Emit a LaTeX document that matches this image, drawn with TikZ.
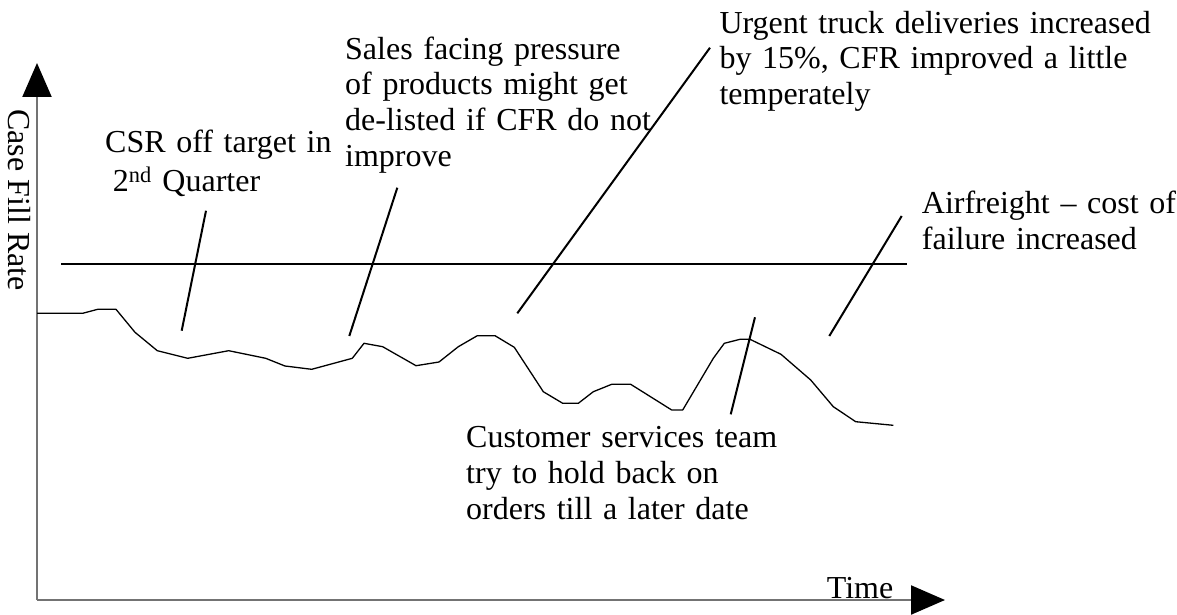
\documentclass[tikz,border=0pt]{standalone}
\usepackage{fontspec}
\setmainfont{Liberation Serif}
\usetikzlibrary{arrows.meta}
\begin{document}
\begin{tikzpicture}[x=1pt,y=-1pt,
  lbl/.style={anchor=base west, inner sep=0pt, text width=520pt, align=left,
              font=\fontsize{32}{35.7}\selectfont},
  axisline/.style={draw=black!55, line width=2.2pt,
              -{Triangle[length=34pt,width=29pt,color=black,fill=black]}},
  pointer/.style={draw=black, line width=2pt},
  target/.style={draw=black, line width=2pt},
  trend/.style={draw=black, line width=1.3pt, line join=round}]
\useasboundingbox (0,0) rectangle (1177,615);

% axes
\coordinate (O) at (37,600);
\coordinate (Ytip) at (37,63);
\coordinate (Xtip) at (945,600);
\draw[axisline] (O) -- (Ytip);
\draw[axisline] (O) -- (Xtip);
\node[anchor=center, rotate=-90, inner sep=0pt, font=\fontsize{32}{35.7}\selectfont] (ylab) at (19,200) {Case Fill Rate};
\node[lbl, text width=100pt] (xlab) at (826.7,598.3) {Time};

% target line
\coordinate (T1) at (61,264);
\coordinate (T2) at (907,264);
\draw[target] (T1) -- (T2);

% trend
\draw[trend] plot coordinates {(37,313.3) (82.7,313.3) (97.7,309.3) (116,309.3) (135,332.3) (157.3,350.7) (187.7,358.3) (228.7,350.7) (265.7,358.3) (285,366) (311.7,369.3) (352.3,358.3) (364,343.3) (382.7,346.7) (416,365.7) (439,362) (458.3,346.7) (477.3,335.7) (495,335.7) (514.3,347.3) (543.3,391.7) (562.7,403.3) (578.3,403.3) (593.3,391.7) (611.7,384.3) (630.7,384.3) (671.7,410) (682.7,410) (713.3,358.3) (724.3,343.3) (740,339.3) (750,339.3) (781,354.3) (810.7,380) (833.3,406.7) (855.7,421.7) (893.3,425.3)};

% labels
\node[lbl] (csr) at (105,153) {CSR off target in\\[3pt]\hspace*{7.7pt}2\textsuperscript{nd} Quarter};
\node[lbl] (sales) at (345,59.3) {Sales facing pressure\\of products might get\\de-listed if CFR do not\\improve};
\node[lbl] (urgent) at (719.3,33.3) {Urgent truck deliveries increased\\by 15\%, CFR improved a little\\temperately};
\node[lbl] (air) at (921.7,213.3) {Airfreight -- cost of\\failure increased};
\node[lbl] (cust) at (466,447.7) {Customer services team\\try to hold back on\\orders till a later date};

% pointer lines
\coordinate (p1a) at (206,210.7);   \coordinate (p1b) at (181.7,330.7);
\coordinate (p2a) at (397.3,187.7); \coordinate (p2b) at (349.3,336);
\coordinate (p3a) at (710,47.7);    \coordinate (p3b) at (517.3,313.3);
\coordinate (p4a) at (901.7,216);   \coordinate (p4b) at (829.3,336);
\coordinate (p5a) at (755,317.3);   \coordinate (p5b) at (730.7,414.3);
\draw[pointer] (p1a) -- (p1b);
\draw[pointer] (p2a) -- (p2b);
\draw[pointer] (p3a) -- (p3b);
\draw[pointer] (p4a) -- (p4b);
\draw[pointer] (p5a) -- (p5b);
\end{tikzpicture}
\end{document}
